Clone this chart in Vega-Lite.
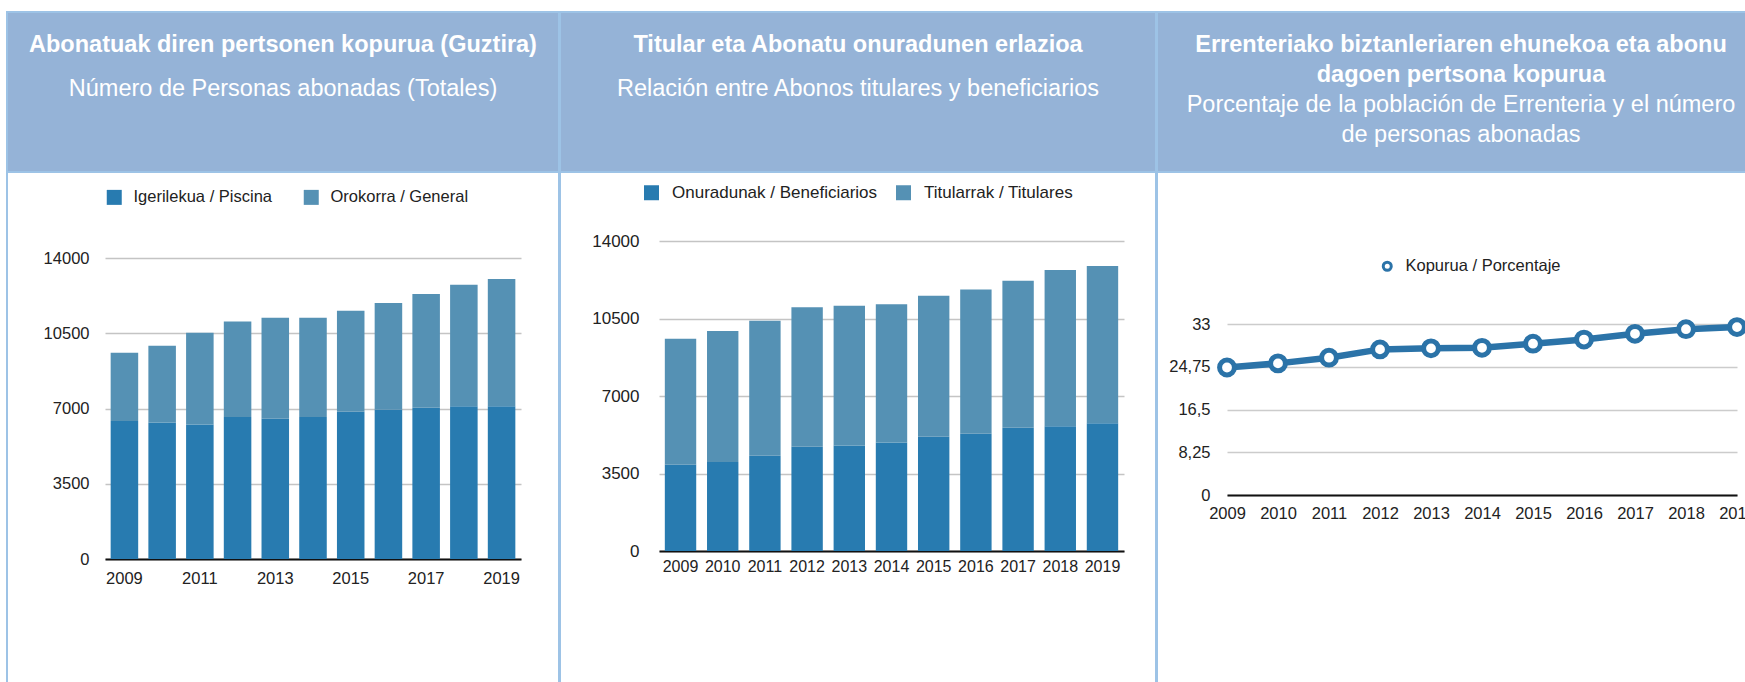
{
  "$schema": "https://vega.github.io/schema/vega-lite/v6.json",
  "padding": {"left": 6, "top": 11, "right": 0, "bottom": 0},
  "background": "white",
  "config": {
    "font": "Liberation Sans",
    "concat": {"spacing": 0},
    "view": {"stroke": null},
    "axis": {"labelFont": "Liberation Sans", "labelColor": "#222", "ticks": false, "tickSize": 0, "title": null, "domain": false, "labelAngle": 0},
    "legend": {"labelFont": "Liberation Sans", "labelColor": "#222", "padding": 0, "labelLimit": 400, "title": null}
  },
  "resolve": {"scale": {"color": "independent"}, "legend": {"color": "independent"}},
  "spacing": -2,
  "hconcat": [
    {
      "bounds": "flush",
      "spacing": 0,
      "resolve": {"scale": {"color": "independent"}, "legend": {"color": "independent"}},
      "vconcat": [
        {
          "width": 552, "height": 160,
          "view": {"fill": "#95b3d7", "stroke": "#9dc3e6", "strokeWidth": 2},
          "layer": [
            {
              "data": {"values": [{"line": "t1", "text": "Abonatuak diren pertsonen kopurua (Guztira)"}]},
              "mark": {"type": "text", "fontSize": 23.5, "fontWeight": "bold", "color": "white", "font": "Liberation Sans", "baseline": "middle", "align": "center"},
              "encoding": {
                "y": {"field": "line", "type": "ordinal", "scale": {"type": "point", "domain": ["t1", "s1"], "range": [33, 77], "padding": 0}, "axis": null},
                "text": {"field": "text"}
              }
            },
            {
              "data": {"values": [{"line": "s1", "text": "Número de Personas abonadas (Totales)"}]},
              "mark": {"type": "text", "fontSize": 23.5, "fontWeight": "normal", "color": "white", "font": "Liberation Sans", "baseline": "middle", "align": "center"},
              "encoding": {
                "y": {"field": "line", "type": "ordinal", "scale": {"type": "point", "domain": ["t1", "s1"], "range": [33, 77], "padding": 0}, "axis": null},
                "text": {"field": "text"}
              }
            }
          ]
        },
        {
          "width": 552, "height": 515,
          "view": {"fill": "white", "stroke": "#9dc3e6", "strokeWidth": 2},
          "data": {"values": [
            {"year": 2009, "serie": "Igerilekua / Piscina", "value": 6420},
            {"year": 2009, "serie": "Orokorra / General", "value": 3170},
            {"year": 2010, "serie": "Igerilekua / Piscina", "value": 6350},
            {"year": 2010, "serie": "Orokorra / General", "value": 3570},
            {"year": 2011, "serie": "Igerilekua / Piscina", "value": 6255},
            {"year": 2011, "serie": "Orokorra / General", "value": 4265},
            {"year": 2012, "serie": "Igerilekua / Piscina", "value": 6600},
            {"year": 2012, "serie": "Orokorra / General", "value": 4450},
            {"year": 2013, "serie": "Igerilekua / Piscina", "value": 6520},
            {"year": 2013, "serie": "Orokorra / General", "value": 4700},
            {"year": 2014, "serie": "Igerilekua / Piscina", "value": 6600},
            {"year": 2014, "serie": "Orokorra / General", "value": 4620},
            {"year": 2015, "serie": "Igerilekua / Piscina", "value": 6845},
            {"year": 2015, "serie": "Orokorra / General", "value": 4705},
            {"year": 2016, "serie": "Igerilekua / Piscina", "value": 6955},
            {"year": 2016, "serie": "Orokorra / General", "value": 4950},
            {"year": 2017, "serie": "Igerilekua / Piscina", "value": 7030},
            {"year": 2017, "serie": "Orokorra / General", "value": 5295},
            {"year": 2018, "serie": "Igerilekua / Piscina", "value": 7110},
            {"year": 2018, "serie": "Orokorra / General", "value": 5650},
            {"year": 2019, "serie": "Igerilekua / Piscina", "value": 7110},
            {"year": 2019, "serie": "Orokorra / General", "value": 5910}
          ]},
          "mark": {"type": "bar"},
          "encoding": {
            "x": {
              "field": "year", "type": "ordinal",
              "scale": {"type": "band", "range": [98, 514], "paddingInner": 0.27, "paddingOuter": 0.15},
              "axis": {"orient": "bottom", "offset": -128, "values": [2009, 2011, 2013, 2015, 2017, 2019], "labelPadding": 19, "labelBaseline": "middle", "labelFontSize": 16.5, "domain": true, "domainColor": "#111", "domainWidth": 2, "grid": false}
            },
            "y": {
              "field": "value", "type": "quantitative", "stack": "zero",
              "scale": {"domain": [0, 14000], "range": [387, 86], "nice": false, "zero": true},
              "axis": {"orient": "left", "offset": -98, "values": [0, 3500, 7000, 10500, 14000], "format": "d", "grid": true, "gridColor": "#c4c4c4", "gridWidth": 1.5, "labelPadding": 16, "labelFontSize": 16.5}
            },
            "order": {"field": "serie", "type": "nominal", "sort": "ascending"},
            "color": {
              "field": "serie", "type": "nominal",
              "scale": {"domain": ["Igerilekua / Piscina", "Orokorra / General"], "range": ["#287bb0", "#5591b4"]},
              "legend": {"orient": "none", "legendX": 99, "legendY": 17, "direction": "horizontal", "symbolType": "square", "symbolSize": 225, "symbolStrokeWidth": 0, "labelFontSize": 16.5, "labelOffset": 11, "columnPadding": 31}
            }
          }
        }
      ]
    },
    {
      "bounds": "flush",
      "spacing": 0,
      "resolve": {"scale": {"color": "independent"}, "legend": {"color": "independent"}},
      "vconcat": [
        {
          "width": 596, "height": 160,
          "view": {"fill": "#95b3d7", "stroke": "#9dc3e6", "strokeWidth": 2},
          "layer": [
            {
              "data": {"values": [{"line": "t1", "text": "Titular eta Abonatu onuradunen erlazioa"}]},
              "mark": {"type": "text", "fontSize": 23.5, "fontWeight": "bold", "color": "white", "font": "Liberation Sans", "baseline": "middle", "align": "center"},
              "encoding": {
                "y": {"field": "line", "type": "ordinal", "scale": {"type": "point", "domain": ["t1", "s1"], "range": [33, 77], "padding": 0}, "axis": null},
                "text": {"field": "text"}
              }
            },
            {
              "data": {"values": [{"line": "s1", "text": "Relación entre Abonos titulares y beneficiarios"}]},
              "mark": {"type": "text", "fontSize": 23.5, "fontWeight": "normal", "color": "white", "font": "Liberation Sans", "baseline": "middle", "align": "center"},
              "encoding": {
                "y": {"field": "line", "type": "ordinal", "scale": {"type": "point", "domain": ["t1", "s1"], "range": [33, 77], "padding": 0}, "axis": null},
                "text": {"field": "text"}
              }
            }
          ]
        },
        {
          "width": 596, "height": 515,
          "view": {"fill": "white", "stroke": "#9dc3e6", "strokeWidth": 2},
          "data": {"values": [
            {"year": 2009, "serie": "Onuradunak / Beneficiarios", "value": 3900},
            {"year": 2009, "serie": "Titularrak / Titulares", "value": 5690},
            {"year": 2010, "serie": "Onuradunak / Beneficiarios", "value": 4020},
            {"year": 2010, "serie": "Titularrak / Titulares", "value": 5915},
            {"year": 2011, "serie": "Onuradunak / Beneficiarios", "value": 4305},
            {"year": 2011, "serie": "Titularrak / Titulares", "value": 6095},
            {"year": 2012, "serie": "Onuradunak / Beneficiarios", "value": 4710},
            {"year": 2012, "serie": "Titularrak / Titulares", "value": 6295},
            {"year": 2013, "serie": "Onuradunak / Beneficiarios", "value": 4770},
            {"year": 2013, "serie": "Titularrak / Titulares", "value": 6310},
            {"year": 2014, "serie": "Onuradunak / Beneficiarios", "value": 4905},
            {"year": 2014, "serie": "Titularrak / Titulares", "value": 6235},
            {"year": 2015, "serie": "Onuradunak / Beneficiarios", "value": 5165},
            {"year": 2015, "serie": "Titularrak / Titulares", "value": 6365},
            {"year": 2016, "serie": "Onuradunak / Beneficiarios", "value": 5300},
            {"year": 2016, "serie": "Titularrak / Titulares", "value": 6515},
            {"year": 2017, "serie": "Onuradunak / Beneficiarios", "value": 5570},
            {"year": 2017, "serie": "Titularrak / Titulares", "value": 6640},
            {"year": 2018, "serie": "Onuradunak / Beneficiarios", "value": 5630},
            {"year": 2018, "serie": "Titularrak / Titulares", "value": 7060},
            {"year": 2019, "serie": "Onuradunak / Beneficiarios", "value": 5765},
            {"year": 2019, "serie": "Titularrak / Titulares", "value": 7105}
          ]},
          "mark": {"type": "bar"},
          "encoding": {
            "x": {
              "field": "year", "type": "ordinal",
              "scale": {"type": "band", "range": [99, 564], "paddingInner": 0.256, "paddingOuter": 0.138},
              "axis": {"orient": "bottom", "offset": -136, "labelPadding": 15, "labelBaseline": "middle", "labelFontSize": 16, "domain": true, "domainColor": "#111", "domainWidth": 2, "grid": false}
            },
            "y": {
              "field": "value", "type": "quantitative", "stack": "zero",
              "scale": {"domain": [0, 14000], "range": [379, 69], "nice": false, "zero": true},
              "axis": {"orient": "left", "offset": -99, "values": [0, 3500, 7000, 10500, 14000], "format": "d", "grid": true, "gridColor": "#c4c4c4", "gridWidth": 1.5, "labelPadding": 20, "labelFontSize": 17}
            },
            "order": {"field": "serie", "type": "nominal", "sort": "ascending"},
            "color": {
              "field": "serie", "type": "nominal",
              "scale": {"domain": ["Onuradunak / Beneficiarios", "Titularrak / Titulares"], "range": ["#287bb0", "#5591b4"]},
              "legend": {"orient": "none", "legendX": 83, "legendY": 12, "direction": "horizontal", "symbolType": "square", "symbolSize": 225, "symbolStrokeWidth": 0, "labelFontSize": 17, "labelOffset": 12, "columnPadding": 17}
            }
          }
        }
      ]
    },
    {
      "bounds": "flush",
      "spacing": 0,
      "resolve": {"scale": {"color": "independent"}, "legend": {"color": "independent"}},
      "vconcat": [
        {
          "width": 608, "height": 160,
          "view": {"fill": "#95b3d7", "stroke": "#9dc3e6", "strokeWidth": 2},
          "layer": [
            {
              "data": {"values": [
                {"line": "t1", "text": "Errenteriako biztanleriaren ehunekoa eta abonu"},
                {"line": "t2", "text": "dagoen pertsona kopurua"}
              ]},
              "mark": {"type": "text", "fontSize": 23.5, "fontWeight": "bold", "color": "white", "font": "Liberation Sans", "baseline": "middle", "align": "center"},
              "encoding": {
                "y": {"field": "line", "type": "ordinal", "scale": {"type": "point", "domain": ["t1", "t2", "s1", "s2"], "range": [33, 123], "padding": 0}, "axis": null},
                "text": {"field": "text"}
              }
            },
            {
              "data": {"values": [
                {"line": "s1", "text": "Porcentaje de la población de Errenteria y el número"},
                {"line": "s2", "text": "de personas abonadas"}
              ]},
              "mark": {"type": "text", "fontSize": 23.5, "fontWeight": "normal", "color": "white", "font": "Liberation Sans", "baseline": "middle", "align": "center"},
              "encoding": {
                "y": {"field": "line", "type": "ordinal", "scale": {"type": "point", "domain": ["t1", "t2", "s1", "s2"], "range": [33, 123], "padding": 0}, "axis": null},
                "text": {"field": "text"}
              }
            }
          ]
        },
        {
          "width": 608, "height": 515,
          "view": {"fill": "white", "stroke": "#9dc3e6", "strokeWidth": 2},
          "data": {"values": [
            {"year": 2009, "pct": 24.6},
            {"year": 2010, "pct": 25.4},
            {"year": 2011, "pct": 26.5},
            {"year": 2012, "pct": 28.1},
            {"year": 2013, "pct": 28.3},
            {"year": 2014, "pct": 28.4},
            {"year": 2015, "pct": 29.2},
            {"year": 2016, "pct": 30.0},
            {"year": 2017, "pct": 31.1},
            {"year": 2018, "pct": 32.0},
            {"year": 2019, "pct": 32.4}
          ]},
          "encoding": {
            "x": {
              "field": "year", "type": "ordinal",
              "scale": {"type": "point", "range": [70, 580], "padding": 0},
              "axis": {"orient": "bottom", "offset": -192, "labelPadding": 18, "labelBaseline": "middle", "labelFontSize": 16.5, "domain": true, "domainColor": "#111", "domainWidth": 2, "grid": false}
            },
            "y": {
              "field": "pct", "type": "quantitative",
              "scale": {"domain": [0, 33], "range": [323, 152], "nice": false, "zero": true},
              "axis": {"orient": "left", "offset": -70, "values": [0, 8.25, 16.5, 24.75, 33], "labelExpr": "replace('' + datum.value, '.', ',')", "grid": true, "gridColor": "#cccccc", "gridWidth": 1.5, "labelPadding": 17, "labelFontSize": 16.5}
            }
          },
          "layer": [
            {"mark": {"type": "line", "color": "#2b73a8", "strokeWidth": 6.5}},
            {
              "mark": {"type": "point", "shape": "circle", "filled": false, "fill": "white", "strokeWidth": 5, "size": 220, "opacity": 1},
              "encoding": {
                "color": {
                  "datum": "Kopurua / Porcentaje",
                  "scale": {"range": ["#2b73a8"]},
                  "legend": {"orient": "none", "legendX": 222, "legendY": 86, "direction": "horizontal", "symbolType": "circle", "symbolSize": 64, "symbolStrokeWidth": 3, "symbolFillColor": "white", "labelFontSize": 16.5, "labelOffset": 10}
                }
              }
            }
          ]
        }
      ]
    }
  ]
}
